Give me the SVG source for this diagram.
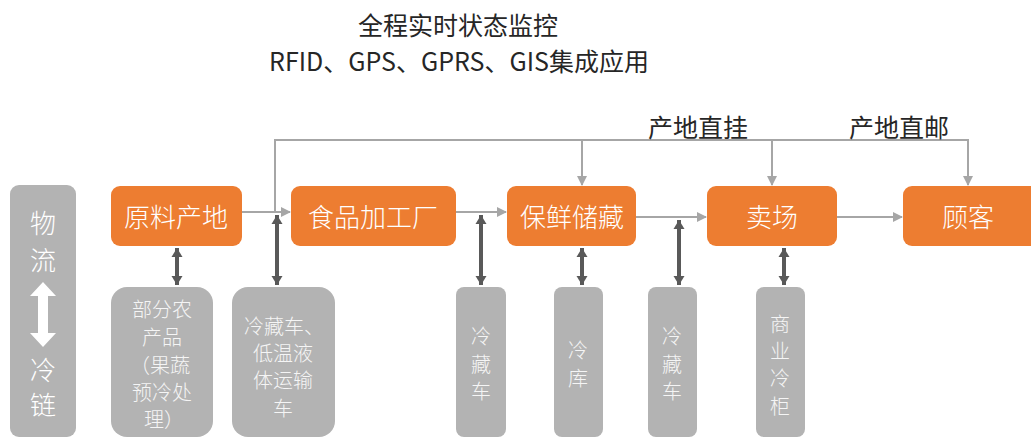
<svg xmlns="http://www.w3.org/2000/svg" width="1031" height="438" viewBox="0 0 1031 438">
<style>
text{font-family:"Noto Sans CJK SC","Noto Sans",sans-serif;text-anchor:middle;dominant-baseline:central}
.title{font-size:25px;fill:#262626}
.lbl{font-size:25px;fill:#262626}
.ob{fill:#ED7D31}
.ot{font-size:26px;fill:#ffffff;font-weight:300}
.gb{fill:#b3b3b3}
.gt{font-size:20px;fill:#f5f5f5;font-weight:300}
.lt{font-size:26px;fill:#ffffff;font-weight:300}
.conn{fill:none;stroke:#a6a6a6;stroke-width:2}
.dbl{stroke:#595959;stroke-width:4}
</style>
<defs>
<marker id="ah" markerUnits="userSpaceOnUse" markerWidth="10" markerHeight="10" refX="9" refY="5" orient="auto">
<path d="M0,0 L10,5 L0,10 Z" fill="#a6a6a6"/>
</marker>
<marker id="dh" markerUnits="userSpaceOnUse" markerWidth="12" markerHeight="12" refX="9" refY="6" orient="auto-start-reverse">
<path d="M0,0.5 L9,6 L0,11.5 Z" fill="#595959"/>
</marker>
</defs>

<g id="title">
<text class="title" x="458" y="24">全程实时状态监控</text>
<text class="title" x="459" y="60">RFID、GPS、GPRS、GIS集成应用</text>
</g>

<g id="connectors">
<path class="conn" d="M242,212 H290" marker-end="url(#ah)"/>
<path class="conn" d="M275,212 V140 H968 V185" marker-end="url(#ah)"/>
<path class="conn" d="M582,140 V185" marker-end="url(#ah)"/>
<path class="conn" d="M772,140 V185" marker-end="url(#ah)"/>
<path class="conn" d="M456,212 H506" marker-end="url(#ah)"/>
<path class="conn" d="M636,217 H706" marker-end="url(#ah)"/>
<path class="conn" d="M837,217 H902" marker-end="url(#ah)"/>
<line class="dbl" x1="177" y1="248" x2="177" y2="285" marker-start="url(#dh)" marker-end="url(#dh)"/>
<line class="dbl" x1="277" y1="215" x2="277" y2="285" marker-start="url(#dh)" marker-end="url(#dh)"/>
<line class="dbl" x1="481" y1="215" x2="481" y2="285" marker-start="url(#dh)" marker-end="url(#dh)"/>
<line class="dbl" x1="582" y1="248" x2="582" y2="285" marker-start="url(#dh)" marker-end="url(#dh)"/>
<line class="dbl" x1="679" y1="220" x2="679" y2="285" marker-start="url(#dh)" marker-end="url(#dh)"/>
<line class="dbl" x1="784" y1="248" x2="784" y2="285" marker-start="url(#dh)" marker-end="url(#dh)"/>
<text class="lbl" x="698" y="126">产地直挂</text>
<text class="lbl" x="899" y="126">产地直邮</text>
</g>

<g id="wuliu">
<rect class="gb" x="10" y="185" width="66" height="252" rx="9"/>
<text class="lt" x="43" y="221">物</text>
<text class="lt" x="43" y="258">流</text>
<path d="M43,282 L56,296 L48,296 L48,333 L56,333 L43,347 L30,333 L38,333 L38,296 L30,296 Z" fill="#ffffff"/>
<text class="lt" x="43" y="368">冷</text>
<text class="lt" x="43" y="403">链</text>
</g>

<g id="yuanliao">
<rect class="ob" x="111" y="186" width="131" height="60" rx="9"/>
<text class="ot" x="176" y="215">原料产地</text>
</g>
<g id="shipin">
<rect class="ob" x="291" y="186" width="165" height="60" rx="9"/>
<text class="ot" x="373" y="215">食品加工厂</text>
</g>
<g id="baoxian">
<rect class="ob" x="507" y="186" width="129" height="60" rx="9"/>
<text class="ot" x="572" y="215">保鲜储藏</text>
</g>
<g id="maichang">
<rect class="ob" x="707" y="186" width="130" height="60" rx="9"/>
<text class="ot" x="772" y="215">卖场</text>
</g>
<g id="guke">
<rect class="ob" x="903" y="186" width="140" height="60" rx="9"/>
<text class="ot" x="968" y="215">顾客</text>
</g>

<g id="nongchanpin">
<rect class="gb" x="111" y="287" width="102" height="150" rx="16"/>
<text class="gt" x="162" y="308">部分农</text>
<text class="gt" x="162" y="336">产品</text>
<text class="gt" x="160" y="364">（果蔬</text>
<text class="gt" x="162" y="391">预冷处</text>
<text class="gt" x="164" y="418">理）</text>
</g>
<g id="lengcangche1">
<rect class="gb" x="232" y="287" width="103" height="150" rx="16"/>
<text class="gt" x="284" y="325">冷藏车、</text>
<text class="gt" x="283" y="352">低温液</text>
<text class="gt" x="283" y="379">体运输</text>
<text class="gt" x="283" y="407">车</text>
</g>
<g id="lengcangche2">
<rect class="gb" x="456" y="287" width="50" height="150" rx="8"/>
<text class="gt" x="481" y="335">冷</text>
<text class="gt" x="481" y="363">藏</text>
<text class="gt" x="481" y="390">车</text>
</g>
<g id="lengku">
<rect class="gb" x="554" y="287" width="49" height="150" rx="8"/>
<text class="gt" x="578" y="349">冷</text>
<text class="gt" x="578" y="377">库</text>
</g>
<g id="lengcangche3">
<rect class="gb" x="648" y="287" width="49" height="150" rx="8"/>
<text class="gt" x="672" y="335">冷</text>
<text class="gt" x="672" y="363">藏</text>
<text class="gt" x="672" y="390">车</text>
</g>
<g id="shangyelenggui">
<rect class="gb" x="756" y="287" width="49" height="150" rx="8"/>
<text class="gt" x="780" y="323">商</text>
<text class="gt" x="780" y="350">业</text>
<text class="gt" x="780" y="377">冷</text>
<text class="gt" x="780" y="405">柜</text>
</g>
</svg>
